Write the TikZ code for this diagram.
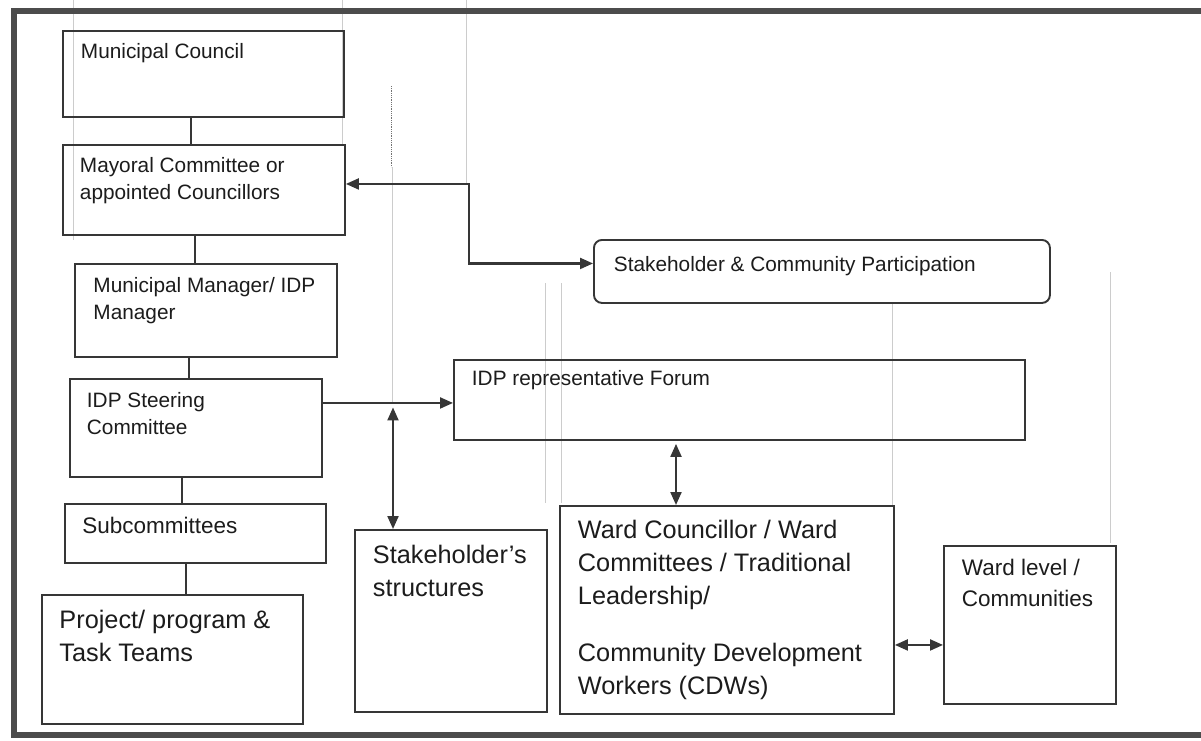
\documentclass[tikz,border=0pt]{standalone}
\usepackage{fontspec}
\setmainfont{Liberation Sans}
\usetikzlibrary{arrows.meta,calc}
\definecolor{lc}{HTML}{363636}
\definecolor{tc}{HTML}{1C1C1C}
\definecolor{fc}{HTML}{4C4C4C}
\newcommand{\smallf}{\fontsize{20.8pt}{26.5pt}\selectfont}
\newcommand{\midf}{\fontsize{22.5pt}{31pt}\selectfont}
\newcommand{\largef}{\fontsize{25.3pt}{33pt}\selectfont}
% #1 width, #2 height, #3 left pad, #4 first baseline, #5 font, #6 text
\newcommand{\bxt}[6]{\parbox[t][#2pt][t]{#1pt}{#5\raggedright\leftskip=#3pt\relax\rule{0pt}{#4pt}#6}}
\begin{document}
\begin{tikzpicture}[x=1pt,y=-1pt,
  box/.style={draw=lc, line width=1.9pt, inner sep=0pt, anchor=north west, text=tc},
  conn/.style={draw=lc, line width=2.1pt},
  ghost/.style={draw=black!20, line width=0.7pt},
  Tri/.tip={Triangle[length=13pt,width=11pt]}]
\useasboundingbox (0,0) rectangle (1201,740);
\fill[white] (0,0) rectangle (1201,740);

% faint scan lines
\draw[ghost] (73,0) -- (73,240);
\draw[ghost] (342,0) -- (342,144);
\draw[ghost] (466,0) -- (466,183);
\draw[ghost] (392,167) -- (392,402);
\draw[black!55, line width=0.8pt, densely dotted] (391,86) -- (391,167);
\draw[ghost] (545,283) -- (545,503);
\draw[ghost] (561,283) -- (561,503);
\draw[ghost] (892,302) -- (892,505);
\draw[ghost] (1110,272) -- (1110,543);

% outer frame
\draw[draw=fc, line width=5.5pt, line join=miter] (1201,11) -- (14,11) -- (14,735) -- (1201,735);

% boxes
\node[box] (mc) at (62,30) {\bxt{281}{86}{18}{28}{\smallf}{Municipal Council}};
\node[box] (mayor) at (62,144) {\bxt{282}{90}{17}{28}{\smallf}{Mayoral Committee or\\appointed Councillors}};
\node[box] (mm) at (74,263) {\bxt{262}{93}{18.5}{29}{\smallf}{Municipal Manager/ IDP\\Manager}};
\node[box] (steer) at (69,378) {\bxt{252}{98}{17}{29}{\smallf}{IDP Steering\\Committee}};
\node[box] (sub) at (64,503) {\bxt{261}{59}{17.5}{30}{\midf}{Subcommittees}};
\node[box] (proj) at (41,594) {\bxt{261}{129}{17.5}{34}{\largef}{Project/ program \&\\Task Teams}};
\node[box] (ss) at (354,529) {\bxt{192}{182}{18}{34}{\largef}{Stakeholder’s\\structures}};
\node[box] (ward) at (559,505) {\bxt{334}{208}{18}{33}{\largef}{Ward Councillor / Ward\\Committees / Traditional\\Leadership/\\[24pt]Community Development\\Workers (CDWs)}};
\node[box] (wl) at (943,545) {\bxt{172}{158}{18}{30}{\midf}{Ward level /\\Communities}};
\node[box] (forum) at (453,359) {\bxt{571}{80}{18}{26}{\smallf}{IDP representative Forum}};
\node[box, rounded corners=8pt] (scp) at (593,239) {\bxt{456}{63}{20}{32}{\smallf}{Stakeholder \& Community Participation}};

% hierarchy lines
\draw[conn] ([xshift=129pt]mc.south west) -- ([xshift=129pt]mayor.north west);
\draw[conn] ([xshift=133pt]mayor.south west) -- ([xshift=121pt]mm.north west);
\draw[conn] ([xshift=115pt]mm.south west) -- ([xshift=120pt]steer.north west);
\draw[conn] ([xshift=113pt]steer.south west) -- ([xshift=118pt]sub.north west);
\draw[conn] ([xshift=122pt]sub.south west) -- ([xshift=145pt]proj.north west);

% arrows
\draw[conn, Tri-Tri] ([yshift=6pt]mayor.east) -- ++(123,0) |- ([yshift=8pt]scp.west);
\draw[conn, -Tri] ([yshift=25pt]steer.east) coordinate (s1) -- (s1 -| forum.west);
\draw[conn, Tri-Tri] ($(s1 -| ss.north west)+(39,4.5)$) -- ([xshift=39pt]ss.north west);
\draw[conn, Tri-Tri, shorten <=3pt] ([xshift=223pt]forum.south west) -- ([xshift=117pt]ward.north west);
\draw[conn, Tri-Tri] ([yshift=-35pt]ward.east) coordinate (w1) -- (w1 -| wl.west);
\end{tikzpicture}
\end{document}
